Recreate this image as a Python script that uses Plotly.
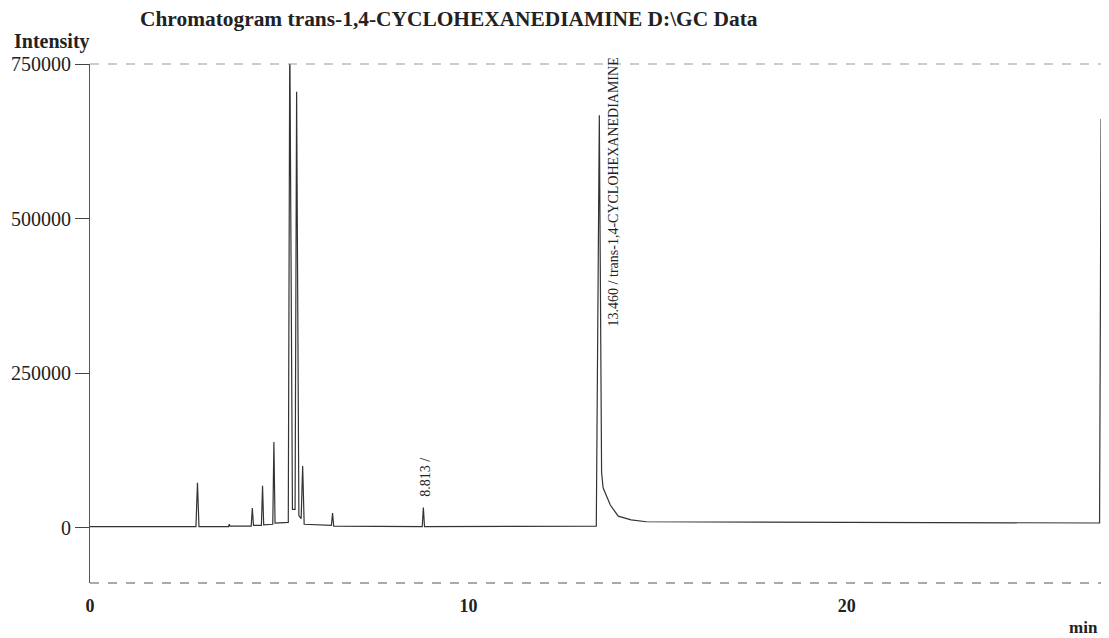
import plotly.graph_objects as go

# Retention time (min) and detector intensity
time_min = [0.00, 2.80, 2.84, 2.88, 3.66, 3.68, 3.70, 4.26, 4.29, 4.32,
            4.53, 4.56, 4.59, 4.83, 4.86, 4.89, 5.24, 5.28, 5.35, 5.42,
            5.46, 5.52, 5.58, 5.62, 5.66, 6.38, 6.41, 6.44, 8.78, 8.81,
            8.84, 13.38, 13.46, 13.52, 13.56, 13.64, 13.75, 13.96, 14.30,
            14.70, 26.68, 26.72, 26.85]
intensity = [2000, 2000, 73000, 2000, 2000, 6000, 3000, 3000, 32000, 4000,
             4000, 68000, 5000, 6000, 139000, 8000, 9000, 800000, 30000, 30000,
             705000, 20000, 15000, 100000, 6000, 4000, 24000, 3000, 2000, 33000,
             2000, 3000, 667000, 90000, 65000, 53000, 37000, 19000, 13000,
             10000, 8000, 660000, 660000]

peak_labels = ["8.813 /", "13.460 / trans-1,4-CYCLOHEXANEDIAMINE"]
peak_label_x = [8.87, 13.83]
peak_label_y = [82000, 543000]

y_ticks = [0, 250000, 500000, 750000]
x_ticks = [0, 10, 20]

serif = "Liberation Serif"

fig = go.Figure()
fig.add_trace(go.Scatter(x=time_min, y=intensity, mode="lines",
                         line=dict(color="#333333", width=1.2),
                         hoverinfo="skip", showlegend=False))

for txt, lx, ly in zip(peak_labels, peak_label_x, peak_label_y):
    fig.add_annotation(x=lx, y=ly, text=txt, textangle=-90, showarrow=False,
                       xanchor="center", yanchor="middle",
                       font=dict(family=serif, size=14, color="#222"))

fig.add_annotation(xref="paper", yref="paper", x=0, y=1, text="<b>Intensity</b>",
                   showarrow=False, xanchor="left", yanchor="middle",
                   xshift=-78, yshift=23, font=dict(family=serif, size=20, color="#222"))
fig.add_annotation(xref="paper", yref="paper", x=1, y=0, text="<b>min</b>",
                   showarrow=False, xanchor="right", yanchor="middle",
                   xshift=-6, yshift=-44, font=dict(family=serif, size=17, color="#222"))

# dashed frame lines (top and bottom)
for yy, col in [(1, "#9a9a9a"), (0, "#555")]:
    fig.add_shape(type="line", xref="paper", yref="paper", x0=0, x1=1, y0=yy, y1=yy,
                  line=dict(color=col, width=1.2, dash="dash"))

fig.update_layout(
    width=1101, height=630,
    margin=dict(l=80, r=3, t=56, b=55),
    paper_bgcolor="white", plot_bgcolor="white",
    title=dict(text="<b>Chromatogram trans-1,4-CYCLOHEXANEDIAMINE D:\\GC Data</b>",
               x=132 / 1101, xanchor="left", y=0.984, yanchor="middle",
               font=dict(family=serif, size=21.4, color="#222")),
    xaxis=dict(range=[0, 26.85], tickvals=x_ticks, ticktext=[f"<b>{v}</b>" for v in x_ticks],
               showgrid=False, zeroline=False, showline=False,
               ticks="", ticklabelstandoff=10,
               tickfont=dict(family=serif, size=18, color="#222")),
    yaxis=dict(range=[-89000, 750000], tickvals=y_ticks, ticktext=[str(v) for v in y_ticks],
               showgrid=False, zeroline=False, showline=True, linecolor="#555", linewidth=1.1,
               ticks="outside", ticklen=14, tickcolor="#444",
               tickfont=dict(family=serif, size=20, color="#222")),
)

fig.write_html("out.html")
